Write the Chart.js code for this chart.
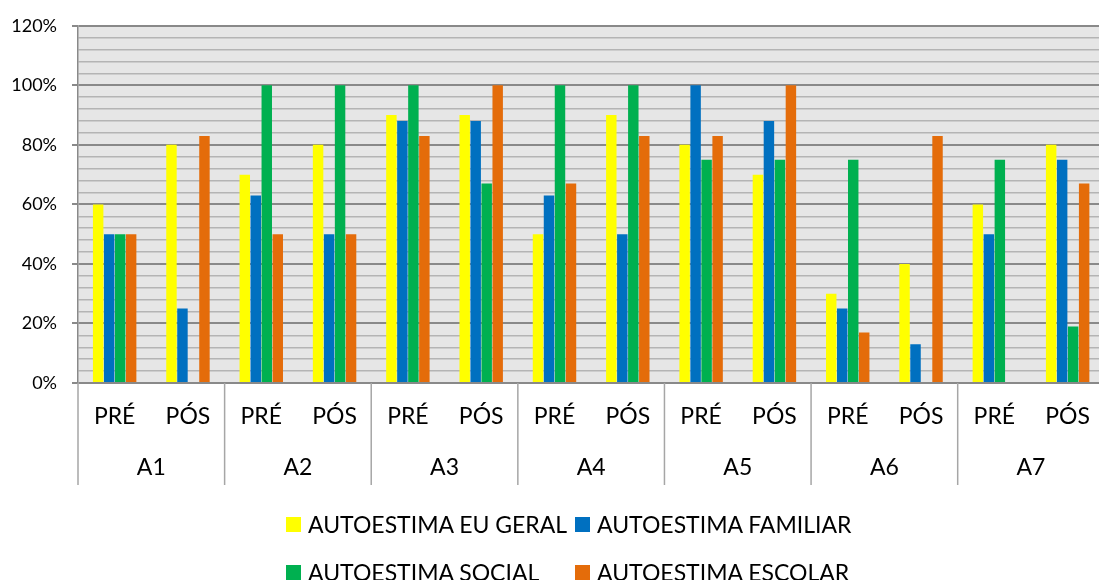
<!DOCTYPE html>
<html lang="pt">
<head>
<meta charset="utf-8">
<title>Autoestima PRÉ / PÓS</title>
<script src="https://cdn.jsdelivr.net/npm/chart.js@4.4.1/dist/chart.umd.min.js"></script>
<style>
    html, body { margin: 0; padding: 0; overflow: hidden; background: #fff; }
    #wrap { position: relative; width: 1110px; height: 580px; }
    #legend {
        position: absolute; left: 286px; top: 510px;
        display: grid; grid-template-columns: 289px auto; row-gap: 20px;
        font-family: Lato, sans-serif; font-size: 23px; color: #000;
    }
    .item { display: flex; align-items: center; height: 28px; white-space: nowrap; }
    .box { width: 15px; height: 15px; margin-right: 7px; flex: none; }
</style>
</head>
<body>
<div id="wrap">
    <canvas id="chart" width="1110" height="580"></canvas>
    <div id="legend"></div>
</div>
<script>
// カテゴリ
const groups = ['A1', 'A2', 'A3', 'A4', 'A5', 'A6', 'A7'];
const phases = ['PRÉ', 'PÓS', 'PRÉ', 'PÓS', 'PRÉ', 'PÓS', 'PRÉ', 'PÓS', 'PRÉ', 'PÓS', 'PRÉ', 'PÓS', 'PRÉ', 'PÓS'];

// 系列データ (%)
const euGeral  = [60, 80, 70, 80, 90, 90, 50, 90, 80, 70, 30, 40, 60, 80];
const familiar = [50, 25, 63, 50, 88, 88, 63, 50, 100, 88, 25, 13, 50, 75];
const social   = [50, 0, 100, 100, 100, 67, 100, 100, 75, 75, 75, 0, 75, 19];
const escolar  = [50, 83, 50, 50, 83, 100, 67, 83, 83, 100, 17, 83, 0, 67];

const seriesNames = ['AUTOESTIMA EU GERAL', 'AUTOESTIMA FAMILIAR', 'AUTOESTIMA SOCIAL', 'AUTOESTIMA ESCOLAR'];
const seriesColors = ['#FFFF00', '#0070C0', '#00B050', '#E46C0A'];

const MAJOR = '#898989';
const MINOR = '#b4b4b4';
const FONT = 'Lato, sans-serif';

// 背景と2段目の区切り線
const framePlugin = {
    id: 'frame',
    beforeDraw(chart) {
        const { ctx, chartArea } = chart;
        ctx.save();
        ctx.fillStyle = '#e6e6e6';
        ctx.fillRect(chartArea.left, chartArea.top, chartArea.right - chartArea.left, chartArea.bottom - chartArea.top);
        ctx.restore();
    },
    afterDraw(chart) {
        const { ctx, chartArea } = chart;
        const x2 = chart.scales.x2;
        const half = (x2.getPixelForValue(1) - x2.getPixelForValue(0)) / 2;
        ctx.save();
        ctx.strokeStyle = '#a6a6a6';
        ctx.lineWidth = 1.5;
        for (let g = 0; g <= groups.length; g++) {
            const px = x2.getPixelForValue(g) - half;
            ctx.beginPath();
            ctx.moveTo(px, chartArea.bottom);
            ctx.lineTo(px, x2.bottom);
            ctx.stroke();
        }
        ctx.restore();
    }
};

const datasets = [euGeral, familiar, social, escolar].map((values, i) => ({
    label: seriesNames[i],
    data: values,
    backgroundColor: seriesColors[i],
    borderWidth: 0,
    categoryPercentage: 0.6,
    barPercentage: 0.95,
    xAxisID: 'x',
    yAxisID: 'y'
}));

const chart = new Chart(document.getElementById('chart').getContext('2d'), {
    type: 'bar',
    data: { labels: phases, datasets: datasets },
    options: {
        responsive: false,
        animation: false,
        layout: { padding: { top: 8, right: 0, bottom: 95, left: 0 } },
        plugins: {
            legend: { display: false },
            tooltip: { enabled: false }
        },
        scales: {
            y: {
                min: 0,
                max: 120,
                afterFit(scale) { scale.width = 78; },
                ticks: {
                    stepSize: 4,
                    autoSkip: false,
                    padding: 15,
                    color: '#000',
                    font: { family: FONT, size: 18 },
                    callback: (v) => (v % 20 === 0 ? v + '%' : '')
                },
                grid: {
                    color: (c) => (c.tick.value % 20 === 0 ? MAJOR : MINOR),
                    lineWidth: (c) => (c.tick.value % 20 === 0 ? 2 : 1.5),
                    tickColor: (c) => (c.tick.value % 20 === 0 ? MAJOR : 'rgba(0,0,0,0)'),
                    tickLength: 6
                },
                border: { color: MAJOR, width: 1.5 }
            },
            x: {
                afterFit(scale) { scale.height = 60; },
                grid: { display: false, drawTicks: false },
                border: { display: false },
                ticks: {
                    padding: 20,
                    color: '#000',
                    maxRotation: 0,
                    autoSkip: false,
                    font: { family: FONT, size: 23 }
                }
            },
            x2: {
                type: 'category',
                position: 'bottom',
                labels: groups,
                offset: true,
                afterFit(scale) { scale.height = 42; },
                grid: { display: false, drawTicks: false },
                border: { display: false },
                ticks: {
                    padding: 11,
                    color: '#000',
                    maxRotation: 0,
                    autoSkip: false,
                    font: { family: FONT, size: 23 }
                }
            }
        }
    },
    plugins: [framePlugin]
});

// 凡例 (2列配置)
const legendEl = document.getElementById('legend');
chart.data.datasets.forEach((ds) => {
    const item = document.createElement('div');
    item.className = 'item';
    item.innerHTML = `<span class="box" style="background:${ds.backgroundColor}"></span><span>${ds.label}</span>`;
    legendEl.appendChild(item);
});
</script>
</body>
</html>
